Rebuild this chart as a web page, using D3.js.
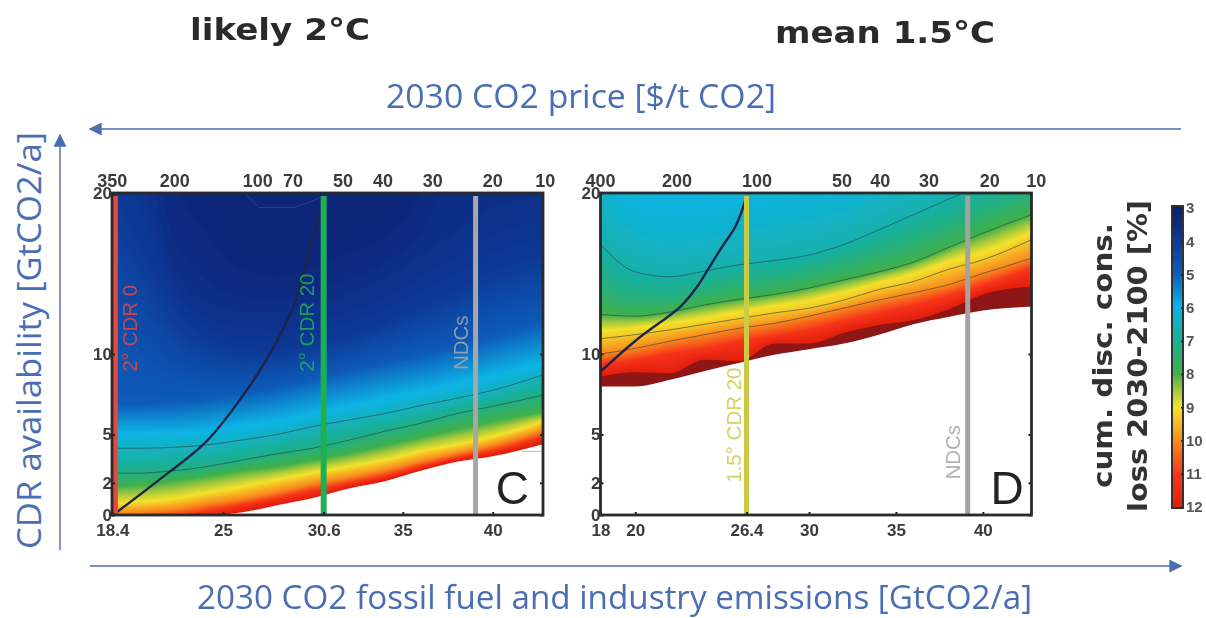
<!DOCTYPE html>
<html><head><meta charset="utf-8">
<style>html,body{margin:0;padding:0;background:#fff}svg{display:block}</style>
<script src="https://cdn.jsdelivr.net/npm/d3@7"></script></head>
<body><svg id="c" width="1206" height="618"></svg>
<script>
// ---------- data ----------
const legendTicks=[3,4,5,6,7,8,9,10,11,12];
const colorValues=[3,4,5,6,7,8,8.5,9,10,11,12];
const colorHex=["#0c1e6c","#103896","#115cb8","#0db3e4","#1bb095","#3fb04c","#a6c93c","#f4e22c","#f88c1e","#f6341a","#e2200e"];
const yTicks=[0,2,5,10,20];
// panel C
const xStopsC=[18.4,20,22,24,26,28,30,32,34,36,38,40,42.8];
const levelsC=[3,3.3,3.6,4,5,6,6.4,7.2,8,9,10,11,12];
const isoC=[
 [40,40,40,40,40,40,40,40,40,40,40,40,40],
 [40,40,24,19.5,16.4,15.8,16.3,17.4,18.4,22,40,40,40],
 [30,26,16,13.6,13,12.95,13.4,14.1,15.1,16.6,18.2,19.7,20.5],
 [20,17,13,11,10.3,10.2,10.6,11.2,12,13,14,15.2,16],
 [6.9,6.9,7,7.2,7.5,7.9,8.4,8.9,9.4,9.9,10.4,11,11.9],
 [5.1,5.1,5.05,5.2,5.5,5.8,6.3,6.7,7.2,7.6,8.1,8.6,9.4],
 [4.15,4.15,4.2,4.35,4.65,5,5.5,5.9,6.3,6.8,7.25,7.75,8.7],
 [2.6,2.6,2.75,3,3.4,3.8,4.15,4.65,5.2,5.7,6.3,6.75,7.45],
 [1.75,1.85,2.1,2.4,2.75,3,3.4,3.8,4.3,4.8,5.3,5.8,6.4],
 [.7,.8,1,1.35,1.75,2.2,2.6,3,3.4,3.95,4.35,4.85,5.8],
 [.1,.2,.35,.7,1,1.45,1.95,2.35,2.8,3.35,3.85,4.35,5.25],
 [-.4,-.3,-.1,.2,.6,1,1.5,1.95,2.4,3,3.55,3.95,4.85],
 [-1,-.8,-.5,-.2,.2,.65,1.1,1.7,2.15,2.8,3.35,3.7,4.5]];
const edgeC=[0,0,0,0,.15,.6,1.05,1.65,2.1,2.75,3.3,3.65,4.4];
const contourC=[6.4,7.2];
const pathwayXC=[18.7,21.05,24,26,27.5,28.9,29.6,30.45];
const pathwayYC=[.2,2.07,4.56,7.25,9.8,12.9,15.6,19];
const faintXC=[26.2,27,29,30.4];
const faintYC=[20,19.1,19.1,19.7];
const bottomTicksC=[18.4,25,30.6,35,40];
const priceLabelsC=[350,200,100,70,50,40,30,20,10];
const priceXC=[18.4,22.13,26.94,28.9,31.67,33.9,36.67,40,42.93];
// panel D
const xStopsD=[18,20,22,24,26,28,30,32,34,36,38,40,42.8];
const levelsD=[3,6,6.3,6.7,7.3,8,9,9.3,10,11,12];
const isoD=[
 [40,40,40,40,40,40,40,40,40,40,40,40,40],
 [24,20.5,20,20.2,20.5,21,21.5,22,23,24,25,26,27],
 [19.5,17.6,17,17.2,17.6,17.9,18.3,18.9,19.8,20.7,21.6,22.5,23.8],
 [16.8,15.1,14.8,15.15,15.55,15.8,16.15,16.8,17.7,18.65,19.6,20.5,21.8],
 [14.4,13.5,13.5,14,14.4,14.7,15.1,15.7,16.4,17.1,18,18.9,20],
 [12.45,12.35,12.6,13.05,13.4,13.7,14.1,14.6,15.1,15.7,16.6,17.5,18.65],
 [11.4,11.6,11.9,12.2,12.6,12.95,13.3,13.8,14.4,14.95,15.7,16.3,17.5],
 [10.95,11.2,11.5,11.85,12.2,12.55,12.85,13.35,14,14.5,15.25,15.85,17.1],
 [10,10.35,10.8,11.2,11.6,11.9,12.35,12.85,13.35,13.8,14.3,15,15.95],
 [9.35,9.6,10,10.3,10.75,11.1,11.45,12,12.5,13,13.55,14.2,15.3],
 [8.6,8.87,8.8,9.65,9.55,10.65,10.65,11.3,11.8,12.1,12.75,13.7,14.2]];
const edgeD=[7.98,7.98,8.4,8.95,9.45,9.95,10.3,10.65,11.2,11.85,12.3,12.7,12.95];
const contourD=[6.7,8,9.3,10];
const pathwayXD=[18,20.1,22.6,23.5,24.1,24.9,25.8,26.35];
const pathwayYD=[8.9,10.9,12.95,14.1,15.1,16.5,18,19.6];
const bottomTicksD=[18,20,26.4,30,35,40];
const priceLabelsD=[400,200,100,50,40,30,20,10];
const priceXD=[18,22.4,27,31.9,34.1,36.9,40.4,43.08];
// ---------- drawing ----------
const svg=d3.select("#c");
const color=d3.scaleLinear().domain(colorValues).range(colorHex).clamp(true);
const sans="'Liberation Sans',Arial,sans-serif";
const blue="#4a6eb4";
const defs=svg.append("defs");
defs.append("filter").attr("id","soft").attr("x","-2%").attr("y","-2%").attr("width","104%").attr("height","104%")
 .append("feGaussianBlur").attr("stdDeviation",0.7);
defs.append("filter").attr("id","txt").attr("x","-5%").attr("y","-5%").attr("width","110%").attr("height","110%")
 .append("feGaussianBlur").attr("stdDeviation",0.45);
const marker=defs.append("marker").attr("id","ah").attr("viewBox","0 0 10 10").attr("refX",9).attr("refY",5)
 .attr("markerWidth",13).attr("markerHeight",13).attr("markerUnits","userSpaceOnUse").attr("orient","auto");
marker.append("path").attr("d","M0,0L10,5L0,10Z").attr("fill",blue);

function isoAt(levels,rows,l,i){
  let k=d3.bisectRight(levels,l)-1;
  k=Math.max(0,Math.min(levels.length-2,k));
  const t=(l-levels[k])/(levels[k+1]-levels[k]);
  return rows[k][i]+t*(rows[k+1][i]-rows[k][i]);
}
function panel(o){
  const g=svg.append("g").attr("filter","url(#txt)");
  const clipId="clip"+o.name;
  const x0=o.x.range()[0], x1=o.x.range()[o.x.range().length-1];
  defs.append("clipPath").attr("id",clipId).append("rect")
    .attr("x",x0).attr("y",o.y(20)).attr("width",x1-x0).attr("height",o.y(0)-o.y(20));
  const body=g.append("g").attr("clip-path",`url(#${clipId})`).append("g");
  const area=d3.area().curve(d3.curveMonotoneX).x(d=>o.x(d[0])).y1(d=>o.y(d[1])).y0(o.y(24));
  // highest value first, lower values painted over it, all cut at the data edge
  const top=o.levels[o.levels.length-1];
  body.append("path").attr("fill",o.over).attr("d",area(o.stops.map((s,i)=>[s,o.edge[i]])));
  d3.range(top,o.levels[0]-0.01,-0.05).forEach(l=>{
    body.append("path").attr("fill",color(l))
      .attr("d",area(o.stops.map((s,i)=>[s,Math.max(o.edge[i],isoAt(o.levels,o.iso,l,i))])));
  });
  const line=d3.line().curve(d3.curveMonotoneX).x(d=>o.x(d[0])).y(d=>o.y(d[1]));
  o.contours.forEach(l=>{
    body.append("path").attr("fill","none").attr("stroke","#26403f").attr("stroke-opacity",.6).attr("stroke-width",1)
      .attr("d",line(o.stops.map((s,i)=>[s,isoAt(o.levels,o.iso,l,i)])));
  });
  if(o.faintX) body.append("path").attr("fill","none").attr("stroke","#3a4a86").attr("stroke-opacity",.7).attr("stroke-width",1)
      .attr("d",d3.line().x(d=>o.x(d[0])).y(d=>o.y(d[1]))(o.faintX.map((s,i)=>[s,o.faintY[i]])));
  body.append("path").attr("fill","none").attr("stroke","#1c2547").attr("stroke-width",2.4)
    .attr("d",d3.line().curve(d3.curveCatmullRom).x(d=>o.x(d[0])).y(d=>o.y(d[1]))(o.pathX.map((s,i)=>[s,o.pathY[i]])));
  o.vlines.forEach(v=>{
    g.append("line").attr("x1",o.x(v.at)).attr("x2",o.x(v.at)).attr("y1",o.y(20)+3).attr("y2",o.y(0)).attr("stroke",v.color).attr("stroke-width",v.w);
    g.append("text").attr("transform",`translate(${o.x(v.at)+v.dx},${o.y(v.from)}) rotate(-90)`)
      .attr("font-family",sans).attr("font-size",20.5).attr("fill",v.color).attr("fill-opacity",.85).text(v.text);
  });
  const style=sel=>{sel.select(".domain").remove();
    sel.selectAll("text").attr("font-family",sans).attr("font-size",17).attr("font-weight","bold").attr("fill","#3a3a3a");
    sel.selectAll("line").attr("stroke","#222").attr("stroke-width",2);};
  g.append("g").attr("transform",`translate(0,${o.y(0)})`)
    .call(d3.axisBottom(o.x).tickValues(o.bottom).tickSize(-3).tickPadding(9).tickFormat(d=>String(d))).call(style);
  g.append("g").attr("transform",`translate(${x0},0)`)
    .call(d3.axisLeft(o.y).tickValues(yTicks).tickSize(-3).tickPadding(0).tickFormat(d=>String(d))).call(style);
  g.append("g").attr("transform",`translate(${x1},0)`)
    .call(d3.axisRight(o.y).tickValues(yTicks).tickSize(-3).tickFormat("")).call(style);
  const top2=g.append("g").attr("transform",`translate(0,${o.y(20)})`);
  o.priceX.forEach((p,i)=>{
    top2.append("text").attr("x",o.x(p)).attr("y",-6).attr("text-anchor","middle").attr("font-family",sans)
      .attr("font-size",18).attr("font-weight","bold").attr("fill","#3a3a3a").text(o.prices[i]);
  });
  g.append("rect").attr("x",x0).attr("y",o.y(20)).attr("width",x1-x0)
    .attr("height",o.y(0)-o.y(20)).attr("fill","none").attr("stroke","#2a2a2a").attr("stroke-width",2.8);
  if(o.blankX) g.append("line").attr("x1",o.x(o.blankX[0])).attr("x2",o.x(o.blankX[1])).attr("y1",o.y(o.blankY)).attr("y2",o.y(o.blankY)).attr("stroke","#bbb").attr("stroke-width",1);
  g.append("text").attr("x",o.x(o.tag.at)).attr("y",o.y(0)-11).attr("text-anchor","middle").attr("font-family",sans)
    .attr("font-size",46).attr("fill","#222").text(o.name);
}
const yC=d3.scaleLinear().domain([0,20]).range([515,193]);
panel({name:"C",
  x:d3.scaleLinear().domain([18.38,25,42.8]).range([112,223,543]),y:yC,
  stops:xStopsC,levels:levelsC,iso:isoC,edge:edgeC,over:color(12),contours:contourC,faintX:faintXC,faintY:faintYC,
  blankX:[41.6,42.7],blankY:3.95,
  pathX:pathwayXC,pathY:pathwayYC,bottom:bottomTicksC,prices:priceLabelsC,priceX:priceXC,tag:{at:41.1},
  vlines:[{at:18.55,color:"#e8473f",w:6,dx:22,from:8.9,text:"2° CDR 0"},
          {at:30.6,color:"#1fb052",w:6,dx:-10,from:8.9,text:"2° CDR 20"},
          {at:39.05,color:"#a7a7aa",w:5,dx:-8,from:9,text:"NDCs"}]});
panel({name:"D",
  x:d3.scaleLinear().domain([18,42.8]).range([600.5,1031.5]),y:yC,
  stops:xStopsD,levels:levelsD,iso:isoD,edge:edgeD,over:"#8f1512",contours:contourD,
  pathX:pathwayXD,pathY:pathwayYD,bottom:bottomTicksD,prices:priceLabelsD,priceX:priceXD,tag:{at:41.4},
  vlines:[{at:26.4,color:"#c9cb45",w:5,dx:-5.5,from:2,text:"1.5° CDR 20"},
          {at:39.13,color:"#a3a3a6",w:5,dx:-8,from:2.2,text:"NDCs"}]});
// colour bar
const legY=d3.scaleLinear().domain([3,12]).range([208,507]);
const grad=defs.append("linearGradient").attr("id","cb").attr("x1",0).attr("x2",0).attr("y1",0).attr("y2",1);
colorValues.forEach((v,i)=>grad.append("stop").attr("offset",(v-3)/9).attr("stop-color",colorHex[i]));
const lg=svg.append("g").attr("filter","url(#txt)");
lg.append("rect").attr("x",1172).attr("y",legY(3)-2).attr("width",11).attr("height",legY(12)-legY(3)+3).attr("fill","url(#cb)").attr("stroke","#333").attr("stroke-width",2);
const la=lg.append("g").attr("transform","translate(1183,0)").call(d3.axisRight(legY).tickValues(legendTicks).tickSize(-2).tickPadding(3));
la.select(".domain").remove();
la.selectAll("line").attr("stroke","#222").attr("stroke-width",1.5);
la.selectAll("text").attr("font-family",sans).attr("font-size",15).attr("font-weight","bold").attr("fill","#555");
// text
const T=(x,y,s,a)=>svg.append("text").attr("x",x).attr("y",y).text(s).attr("font-family",a.f).attr("font-size",a.s).attr("font-weight",a.w||"normal").attr("fill",a.c).attr("textLength",a.l).attr("lengthAdjust","spacingAndGlyphs").attr("filter",a.b?"url(#txt)":null);
const R=(x,y,s,a)=>svg.append("text").attr("transform",`translate(${x},${y}) rotate(-90)`).text(s).attr("font-family",a.f).attr("font-size",a.s).attr("font-weight",a.w||"normal").attr("fill",a.c).attr("textLength",a.l).attr("lengthAdjust","spacingAndGlyphs").attr("filter",a.b?"url(#txt)":null);
const dj="'DejaVu Sans',sans-serif", op="'Open Sans',sans-serif";
T(190,40,"likely 2°C",{f:dj,s:31,w:"bold",c:"#2b2b2b",l:180,b:1});
T(775,43,"mean 1.5°C",{f:dj,s:31,w:"bold",c:"#2b2b2b",l:220,b:1});
T(386,108,"2030 CO2 price [$/t CO2]",{f:op,s:32,c:blue,l:390});
T(197,609,"2030 CO2 fossil fuel and industry emissions [GtCO2/a]",{f:op,s:32,c:blue,l:835});
R(41,549,"CDR availability [GtCO2/a]",{f:op,s:32,c:blue,l:417});
R(1112,488,"cum. disc. cons.",{f:dj,s:27,w:"bold",c:"#333",l:265,b:1});
R(1147,512,"loss 2030-2100 [%]",{f:dj,s:27,w:"bold",c:"#333",l:312,b:1});
const A=(x1,y1,x2,y2)=>svg.append("line").attr("x1",x1).attr("y1",y1).attr("x2",x2).attr("y2",y2).attr("stroke",blue).attr("stroke-width",1.4).attr("marker-end","url(#ah)");
A(1181,129,90,129);A(60,550,60,135);A(90,566,1181,566);
</script></body></html>
